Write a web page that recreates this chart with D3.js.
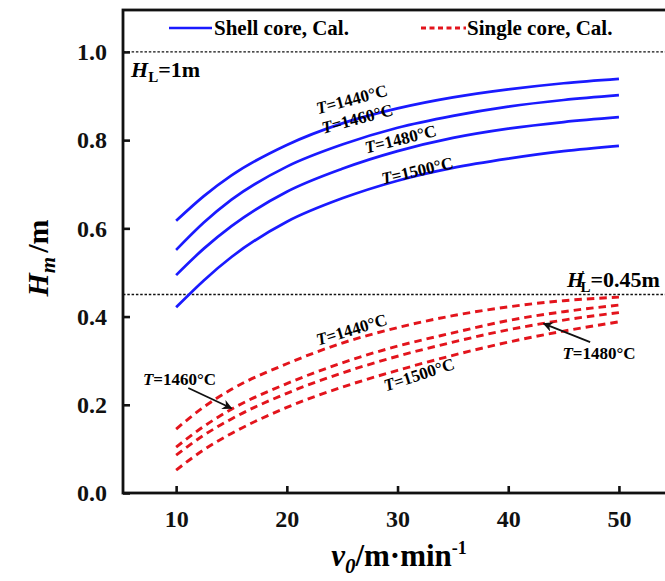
<!DOCTYPE html>
<html>
<head>
<meta charset="utf-8">
<script src="https://cdn.jsdelivr.net/npm/d3@7"></script>
<style>
  html, body { margin: 0; padding: 0; background: #fff; overflow: hidden; }
  text { font-family: "Times New Roman", "Liberation Serif", serif; font-weight: bold; }
</style>
</head>
<body>
<svg id="chart" width="665" height="581"></svg>
<script>
// casting speed (m/min)
var speeds = [10, 12.5, 15, 20, 25, 30, 35, 40, 45, 50];

// shell core, calculated Hm (m)
var shell1440 = [0.617, 0.673, 0.720, 0.789, 0.838, 0.872, 0.897, 0.915, 0.929, 0.939];
var shell1460 = [0.551, 0.613, 0.665, 0.740, 0.790, 0.828, 0.855, 0.876, 0.891, 0.902];
var shell1480 = [0.494, 0.554, 0.605, 0.683, 0.735, 0.775, 0.805, 0.826, 0.841, 0.852];
var shell1500 = [0.421, 0.482, 0.535, 0.615, 0.668, 0.708, 0.737, 0.758, 0.775, 0.787];

// single core, calculated Hm (m)
var single1440 = [0.145, 0.195, 0.235, 0.293, 0.340, 0.375, 0.402, 0.422, 0.436, 0.444];
var single1460 = [0.104, 0.151, 0.190, 0.248, 0.295, 0.333, 0.363, 0.391, 0.411, 0.426];
var single1480 = [0.086, 0.131, 0.168, 0.226, 0.272, 0.310, 0.342, 0.370, 0.392, 0.409];
var single1500 = [0.052, 0.098, 0.135, 0.194, 0.240, 0.278, 0.312, 0.342, 0.367, 0.388];

// reference heights
var hLevels = [1.0, 0.45];

// axis ticks
var xTicks = [10, 20, 30, 40, 50];
var yTicks = [0.0, 0.2, 0.4, 0.6, 0.8, 1.0];

var svg = d3.select("#chart");

// plot frame
var plotLeft = 123, plotTop = 10, plotBottom = 493, plotRight = 668;

var x = d3.scaleLinear().domain([5.2, 5.2 + (plotRight - plotLeft) / 11.07]).range([plotLeft, plotRight]);
var y = d3.scaleLinear().domain([0, 1.095]).range([plotBottom, plotTop]);

var blue = "#1a1aff", red = "#e3141c";

// dotted reference lines
svg.append("g").selectAll("line")
    .data(hLevels)
    .enter()
    .append("line")
    .attr("x1", plotLeft)
    .attr("x2", plotRight)
    .attr("y1", function(d) { return y(d); })
    .attr("y2", function(d) { return y(d); })
    .attr("stroke", "#111")
    .attr("stroke-width", 1.4)
    .attr("stroke-dasharray", "2.5,1.8");

var line = d3.line()
    .x(function(d, i) { return x(speeds[i]); })
    .y(function(d) { return y(d); })
    .curve(d3.curveMonotoneX);

// shell core curves
svg.append("g").selectAll("path")
    .data([shell1440, shell1460, shell1480, shell1500])
    .enter()
    .append("path")
    .attr("d", line)
    .attr("fill", "none")
    .attr("stroke", blue)
    .attr("stroke-width", 2.7);

// single core curves
svg.append("g").selectAll("path")
    .data([single1440, single1460, single1480, single1500])
    .enter()
    .append("path")
    .attr("d", line)
    .attr("fill", "none")
    .attr("stroke", red)
    .attr("stroke-width", 2.9)
    .attr("stroke-dasharray", "7.5,5");

// axes
var xAxis = d3.axisBottom(x).tickValues(xTicks).tickSize(-7).tickPadding(17).tickFormat(d3.format("d"));
var yAxis = d3.axisLeft(y).tickValues(yTicks).tickSize(-7).tickPadding(16).tickFormat(d3.format(".1f"));

var gx = svg.append("g").attr("transform", "translate(0," + plotBottom + ")").call(xAxis);
var gy = svg.append("g").attr("transform", "translate(" + plotLeft + ",0)").call(yAxis);

[gx, gy].forEach(function(g) {
    g.select(".domain").remove();
    g.selectAll(".tick line").attr("stroke", "#111").attr("stroke-width", 2.6);
    g.selectAll(".tick text")
        .attr("fill", "#111")
        .style("font-size", "24px")
        .style("font-family", "'Times New Roman', 'Liberation Serif', serif")
        .style("font-weight", "bold");
});

// frame
svg.append("rect")
    .attr("x", plotLeft)
    .attr("y", plotTop)
    .attr("width", plotRight - plotLeft)
    .attr("height", plotBottom - plotTop)
    .attr("fill", "none")
    .attr("stroke", "#111")
    .attr("stroke-width", 2.8);

// legend
var legend = svg.append("g").style("font-size", "21px");
legend.append("line").attr("x1", 169).attr("x2", 212).attr("y1", 28).attr("y2", 28)
    .attr("stroke", blue).attr("stroke-width", 2.7);
legend.append("text").attr("x", 214).attr("y", 35).text("Shell core, Cal.");
legend.append("line").attr("x1", 421).attr("x2", 466).attr("y1", 28).attr("y2", 28)
    .attr("stroke", red).attr("stroke-width", 2.8).attr("stroke-dasharray", "5,3.5");
legend.append("text").attr("x", 467).attr("y", 35).text("Single core, Cal.");

// H_L labels
var hl1 = svg.append("text").attr("x", 131).attr("y", 77).style("font-size", "22px");
hl1.append("tspan").style("font-style", "italic").text("H");
hl1.append("tspan").attr("dy", 5).style("font-size", "15px").text("L");
hl1.append("tspan").attr("dy", -5).text("=1m");

var hl2 = svg.append("text").attr("x", 567).attr("y", 287).style("font-size", "22px");
hl2.append("tspan").style("font-style", "italic").text("H");
hl2.append("tspan").attr("dx", -3).attr("dy", -8).style("font-size", "12px").text("'");
hl2.append("tspan").attr("dx", -4).attr("dy", 13).style("font-size", "15px").text("L");
hl2.append("tspan").attr("dy", -5).text("=0.45m");

// temperature labels: position (data units), rotation, text
var tempLabelX = [26.0, 26.5, 30.4, 31.9, 26.0, 32.1, 7.0, 44.9];
var tempLabelY = [0.880, 0.836, 0.790, 0.718, 0.358, 0.256, 0.245, 0.304];
var tempLabelR = [-15, -15, -14, -13, -17, -18, 0, 0];
var tempLabelT = ["1440", "1460", "1480", "1500", "1440", "1500", "1460", "1480"];

var tl = svg.append("g").style("font-size", "17px");
tempLabelT.forEach(function(t, i) {
    var px = x(tempLabelX[i]), py = y(tempLabelY[i]);
    var txt = tl.append("text")
        .attr("transform", "translate(" + px + "," + py + ") rotate(" + tempLabelR[i] + ")")
        .attr("text-anchor", i < 6 ? "middle" : "start");
    txt.append("tspan").style("font-style", "italic").text("T");
    txt.append("tspan").text("=" + t + "\u00b0C");
});

// arrows
var defs = svg.append("defs");
defs.append("marker")
    .attr("id", "arrow")
    .attr("viewBox", "0 0 10 10")
    .attr("refX", 9).attr("refY", 5)
    .attr("markerWidth", 10).attr("markerHeight", 10)
    .attr("markerUnits", "userSpaceOnUse")
    .attr("orient", "auto")
    .append("path")
    .attr("d", "M0,0 L10,5 L0,10 L3,5 Z")
    .attr("fill", "#111");

var arrowX1 = [11.1, 47.4], arrowY1 = [0.238, 0.342];
var arrowX2 = [15.0, 43.2], arrowY2 = [0.192, 0.384];
svg.append("g").selectAll("line")
    .data(arrowX1)
    .enter()
    .append("line")
    .attr("x1", function(d, i) { return x(arrowX1[i]); })
    .attr("y1", function(d, i) { return y(arrowY1[i]); })
    .attr("x2", function(d, i) { return x(arrowX2[i]); })
    .attr("y2", function(d, i) { return y(arrowY2[i]); })
    .attr("stroke", "#111")
    .attr("stroke-width", 1.8)
    .attr("marker-end", "url(#arrow)");

// axis titles
var xt = svg.append("text").attr("x", 399).attr("y", 566).attr("text-anchor", "middle").style("font-size", "31px");
xt.append("tspan").style("font-style", "italic").text("v");
xt.append("tspan").attr("dy", 7).style("font-style", "italic").style("font-size", "21px").text("0");
xt.append("tspan").attr("dy", -7).text("/m\u00b7min");
xt.append("tspan").attr("dy", -12).style("font-size", "18px").text("-1");

var yt = svg.append("text")
    .attr("transform", "translate(48,258) rotate(-90)")
    .attr("text-anchor", "middle")
    .style("font-size", "30px");
yt.append("tspan").style("font-style", "italic").text("H");
yt.append("tspan").attr("dy", 7).style("font-style", "italic").style("font-size", "21px").text("m");
yt.append("tspan").attr("dy", -7).attr("dx", 4).text("/m");
</script>
</body>
</html>
